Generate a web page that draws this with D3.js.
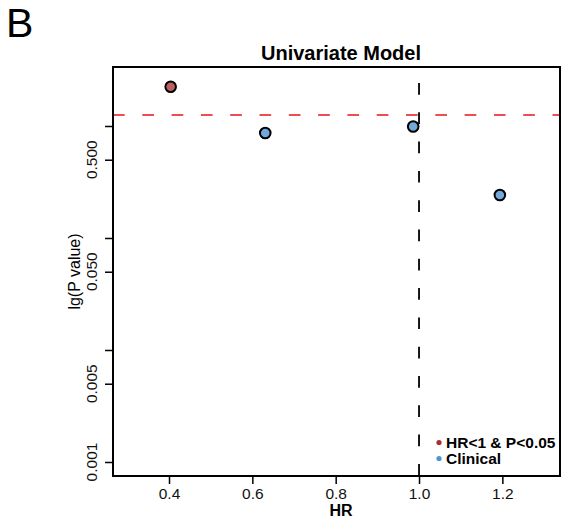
<!DOCTYPE html>
<html>
<head>
<meta charset="utf-8">
<script src="https://cdn.jsdelivr.net/npm/d3@7"></script>
<style>
  body { margin: 0; background: #fff; }
  text { font-family: "Liberation Sans", Arial, sans-serif; }
</style>
</head>
<body>
<div class="figure"></div>
<script>
const w = 562;
const h = 522;

// data
let hr = [0.404, 0.631, 0.986, 1.194];
let pval = [2.24, 0.866, 0.99, 0.242];
let group = ["sig", "clin", "clin", "clin"];
let pCut = 1.254; // red dashed line
let hrRef = 1.0;   // black dashed line

let xTicks = [0.4, 0.6, 0.8, 1.0, 1.2];
let yTicks = [1, 0.5, 0.1, 0.05, 0.01, 0.005, 0.001];
let yLabels = ["", "0.500", "", "0.050", "", "0.005", "0.001"];

let legendText = ["HR<1 & P<0.05", "Clinical"];
let legendKey = ["sig", "clin"];

const fillCol = { sig: "#bc5f5f", clin: "#72a9da" };
const dotCol = { sig: "#b22a2a", clin: "#4b95d6" };

// plot box
const L = 113, R = 560, T = 67, B = 476;

let x = d3.scaleLinear()
  .domain([0.4 - (169 - L) / 416.7, 0.4 + (R - 169) / 416.7])
  .range([L, R]);

let y = d3.scaleLog()
  .domain([Math.pow(10, (126 - T) / 112), Math.pow(10, -(B - 126) / 112)])
  .range([T, B]);

let svg = d3.select("body").select(".figure")
  .append("svg")
  .attr("width", w)
  .attr("height", h);

// panel letter
svg.append("text")
  .attr("x", 6).attr("y", 37)
  .attr("font-size", 41)
  .text("B");

// title
svg.append("text")
  .attr("x", 341).attr("y", 60)
  .attr("text-anchor", "middle")
  .attr("font-size", 20).attr("font-weight", "bold")
  .text("Univariate Model");

// reference lines
svg.append("line")
  .attr("x1", L).attr("x2", R)
  .attr("y1", y(pCut)).attr("y2", y(pCut))
  .attr("stroke", "#e8141c").attr("stroke-width", 1.4)
  .attr("stroke-dasharray", "11.7,17.6");

svg.append("line")
  .attr("x1", x(hrRef)).attr("x2", x(hrRef))
  .attr("y1", 83).attr("y2", B)
  .attr("stroke", "#000").attr("stroke-width", 1.8)
  .attr("stroke-dasharray", "11.7,17.6");

// points
svg.selectAll("circle.pt")
  .data(hr)
  .enter()
  .append("circle")
  .attr("class", "pt")
  .attr("cx", (d) => x(d))
  .attr("cy", (d, i) => y(pval[i]))
  .attr("r", 5.3)
  .attr("fill", (d, i) => fillCol[group[i]])
  .attr("stroke", "#000")
  .attr("stroke-width", 2);

// box
svg.append("rect")
  .attr("x", L).attr("y", T)
  .attr("width", R - L).attr("height", B - T)
  .attr("fill", "none").attr("stroke", "#000").attr("stroke-width", 2);

// x axis
let xg = svg.append("g")
  .attr("transform", "translate(0," + B + ")")
  .call(d3.axisBottom(x).tickValues(xTicks).tickFormat(d3.format(".1f")).tickSize(8).tickPadding(4));
xg.select(".domain").remove();
xg.selectAll("line").attr("stroke-width", 1.5);
xg.selectAll("text").attr("font-size", 15.5).attr("fill", "#111")
  .attr("font-family", "Liberation Sans, Arial, sans-serif");

svg.append("text")
  .attr("x", 341).attr("y", 516)
  .attr("text-anchor", "middle")
  .attr("font-size", 16).attr("font-weight", "bold")
  .text("HR");

// y axis
let yg = svg.append("g")
  .attr("transform", "translate(" + L + ",0)")
  .call(d3.axisLeft(y).tickValues(yTicks).tickFormat("").tickSize(8));
yg.select(".domain").remove();
yg.selectAll("line").attr("stroke-width", 1.5);

svg.selectAll("text.ylab")
  .data(yTicks)
  .enter()
  .append("text")
  .attr("class", "ylab")
  .attr("transform", (d) => "translate(97," + y(d) + ") rotate(-90)")
  .attr("text-anchor", "middle")
  .attr("font-size", 15.5).attr("fill", "#111")
  .text((d, i) => yLabels[i]);

svg.append("text")
  .attr("transform", "translate(80," + ((T + B) / 2) + ") rotate(-90)")
  .attr("text-anchor", "middle")
  .attr("font-size", 16)
  .text("lg(P value)");

// legend
let lg = svg.selectAll("g.leg")
  .data(legendText)
  .enter()
  .append("g")
  .attr("class", "leg")
  .attr("transform", (d, i) => "translate(439," + (442.5 + i * 16) + ")");
lg.append("circle")
  .attr("r", 2.6)
  .attr("fill", (d, i) => dotCol[legendKey[i]]);
lg.append("text")
  .attr("x", 7).attr("y", 5.5)
  .attr("font-size", 15.5).attr("font-weight", "bold")
  .text((d) => d);
</script>
</body>
</html>
